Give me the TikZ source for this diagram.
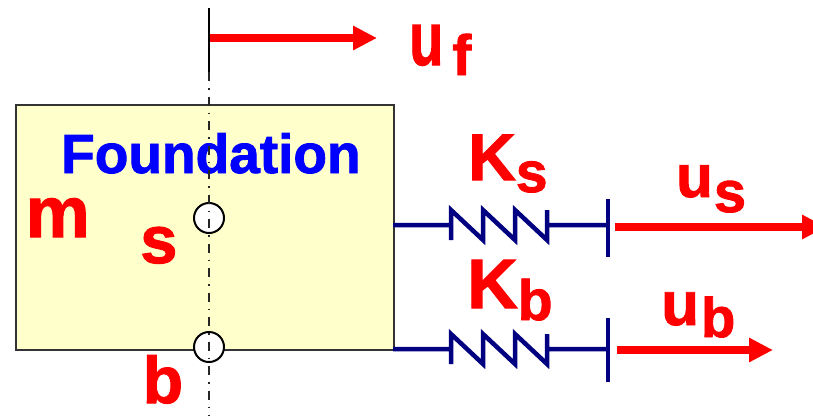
\documentclass[tikz,border=0pt]{standalone}
\usepackage{fontspec}
\setmainfont{Liberation Sans}
\newfontfamily\heavy{Liberation Sans Bold}[FakeBold=1.5]
\usetikzlibrary{arrows.meta}
\definecolor{fndfill}{HTML}{FFFFCC}
\definecolor{navyline}{HTML}{000080}
\definecolor{redlbl}{HTML}{FF0000}
\definecolor{bluelbl}{HTML}{0000FF}
\newcommand\fs[1]{\fontsize{#1}{#1}\selectfont}
\tikzset{
  lab/.style={text=redlbl, inner sep=0pt, anchor=base west},
  springline/.style={draw=navyline, line width=4.5pt, line join=miter},
  disp/.style={draw=redlbl, line width=7.5pt, -{Triangle[length=24pt,width=23pt]}},
  refpt/.style={circle, draw=black, fill=white, line width=2pt, minimum size=30pt, inner sep=0pt},
}
\newcommand\springrow[4]{% #1 y, #2 bar top, #3 bar bottom, #4 name
  \coordinate (#4a) at (393,#1);
  \coordinate (#4z) at (608,#1);
  \coordinate (#4t) at (608,#2);
  \coordinate (#4b) at (608,#3);
  \draw[springline] (#4a) -- (451,#1)
    (451,#1+15) -- (451,#1-15) -- (483,#1+15) -- (483,#1-15) -- (515,#1+15) -- (515,#1-15) -- (547,#1+15) -- (547,#1-15)
    (547,#1) -- (#4z);
  \draw[springline] (#4t) -- (#4b);
}
\begin{document}
\begin{tikzpicture}[x=1pt,y=-1pt]
\clip (0,0) rectangle (813,418);
\fill[white] (0,0) rectangle (813,418);
% foundation block
\node[draw=black!80, fill=fndfill, line width=2pt, minimum width=378pt, minimum height=245pt, inner sep=0pt, anchor=north west] (box) at (15,104) {};
% springs
\springrow{225}{199}{257}{up}
\springrow{349}{318}{382}{lo}
% displacement arrows
\coordinate (ufa) at (209,38); \coordinate (ufb) at (377,38);
\coordinate (usa) at (615,227); \coordinate (usb) at (826,227);
\coordinate (uba) at (617,350); \coordinate (ubb) at (773,350);
\draw[disp] (ufa) -- (ufb);
\draw[disp] (usa) -- (usb);
\draw[disp] (uba) -- (ubb);
% reference points
\node[refpt] (ps) at (209,218) {};
\node[refpt] (pb) at (209,347) {};
% labels
\node[lab, text=bluelbl, font=\heavy\fs{55}] (fnd) at (61,173) {Foundation};
\node[lab, font=\heavy\fs{72}] (mlab) at (25.5,237) {m};
\node[lab, font=\heavy\fs{67}] (slab) at (140,263) {s};
\node[lab, font=\heavy\fs{66}] (blab) at (142.6,403) {b};
\node[lab, font=\heavy\fs{66}] (kslab) at (468,180) {K\raisebox{-12pt}{\fs{57}s}};
\node[lab, font=\heavy\fs{70}] (kblab) at (467,308) {K\raisebox{-12pt}{\fs{57}b}};
\node[lab, font=\heavy\fs{60}] (uslab) at (676,197) {u\kern1pt\raisebox{-15pt}{\fs{58}s}};
\node[lab, font=\heavy\fs{62}] (ublab) at (661,325) {u\kern2pt\raisebox{-12pt}{\fs{56}b}};
\node[lab, font=\heavy\fs{56}] (uflab) at (409,65) {\scalebox{1}[1.35]{u}\kern9pt\raisebox{-10pt}{\fs{57}f}};
% axis
\coordinate (ax0) at (209,8);
\coordinate (ax1) at (209,72);
\coordinate (ax2) at (209,416);
\draw[black, line width=2pt] (ax0) -- (ax1);
\draw[black!85, line width=1.6pt, dash pattern=on 9pt off 7pt on 1.5pt off 7pt] (ax1) -- (ax2);
\end{tikzpicture}
\end{document}
